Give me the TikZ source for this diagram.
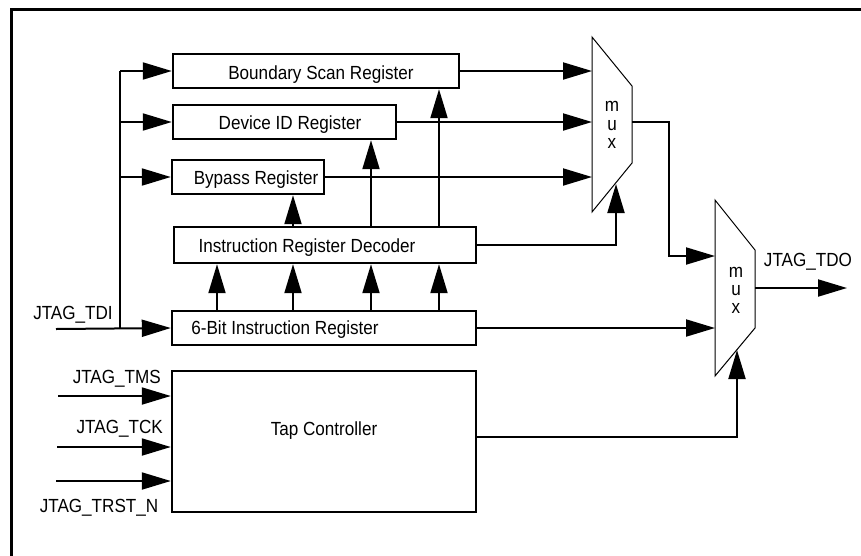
\documentclass[tikz,border=0pt]{standalone}
\usepackage{fontspec}
\setmainfont{Liberation Sans}[FakeStretch=0.9]
\usetikzlibrary{arrows.meta}
\tikzset{
  regbox/.style={draw, line width=2.4pt, inner sep=0pt, rectangle},
  conn/.style={line width=2pt},
  arr/.style={line width=2pt, -{Triangle[length=29pt,width=17pt]}},
  muxshape/.style={line width=1pt, line join=miter},
  lbl/.style={inner sep=0pt, anchor=base, font=\fontsize{19}{22}\selectfont},
}
\begin{document}
\begin{tikzpicture}[x=1pt,y=-1pt]
\useasboundingbox (0,0) rectangle (861,555);
\fill[white] (0,0) rectangle (861,555);
% frame
\draw[line width=3pt] (861,9) -- (11,9) -- (11,556);

% boxes
\node[regbox, minimum width=286pt, minimum height=34pt] (bsr) at (316,71) {};
\node[regbox, minimum width=223pt, minimum height=34pt] (dev) at (284.5,122) {};
\node[regbox, minimum width=152pt, minimum height=34pt] (byp) at (248,177) {};
\node[regbox, minimum width=302pt, minimum height=36pt] (ird) at (325,245) {};
\node[regbox, minimum width=304pt, minimum height=34pt] (ir) at (324,328) {};
\node[regbox, minimum width=304pt, minimum height=141pt] (tap) at (324,441.5) {};

% box texts
\node[lbl] (tbsr) at (321,79) {Boundary Scan Register};
\node[lbl] (tdev) at (290,129) {Device ID Register};
\node[lbl] (tbyp) at (256,184) {Bypass Register};
\node[lbl] (tird) at (307,252) {Instruction Register Decoder};
\node[lbl] (tir) at (285,334) {6-Bit Instruction Register};
\node[lbl] (ttap) at (324,435) {Tap Controller};

% muxes
\coordinate (m1a) at (592,37);
\coordinate (m1b) at (632,86);
\coordinate (m1c) at (632,163);
\coordinate (m1d) at (592,212);
\draw[muxshape] (m1a) -- (m1b) -- (m1c) -- (m1d) -- cycle;
\coordinate (m2a) at (715,200);
\coordinate (m2b) at (755,250);
\coordinate (m2c) at (755,328);
\coordinate (m2d) at (715,376);
\draw[muxshape] (m2a) -- (m2b) -- (m2c) -- (m2d) -- cycle;
\node[lbl] (m1m) at (612,111) {m};
\node[lbl] (m1u) at (612,130) {u};
\node[lbl] (m1x) at (612,148) {x};
\node[lbl] (m2m) at (736,277) {m};
\node[lbl] (m2u) at (736,295) {u};
\node[lbl] (m2x) at (736,313) {x};

% coordinates
\coordinate (m1l) at (592,122);
\coordinate (m1s) at (616,184);
\coordinate (m1o) at (632,122);
\coordinate (m2i) at (715,256);
\coordinate (m2l) at (715,329);
\coordinate (m2s) at (737,350);
\coordinate (m2o) at (755,288);
\coordinate (tdo) at (847,288);
\coordinate (tdi) at (56,329);
\coordinate (bus) at (120,329);
\coordinate (bustop) at (120,71);
\coordinate (tms) at (58,396);
\coordinate (tck) at (57,447);
\coordinate (trst) at (56,481);
\coordinate (xa) at (217,0);
\coordinate (xb) at (293,0);
\coordinate (xc) at (371,0);
\coordinate (xd) at (439,0);

% TDI bus
\draw[arr] (tdi) -- (ir.west);
\draw[conn] (bus) -- (bustop);
\draw[arr] (bustop) -- (bsr.west);
\draw[arr] (bus |- dev.west) -- (dev.west);
\draw[arr] (bus |- byp.west) -- (byp.west);

% registers to mux1
\draw[arr] (bsr.east) -- (bsr.east -| m1l);
\draw[arr] (dev.east) -- (dev.east -| m1l);
\draw[arr] (byp.east) -- (byp.east -| m1l);
\draw[arr] (ird.east) -| (m1s);

% decoder to registers
\draw[arr] (ird.north -| xb) -- (byp.south -| xb);
\draw[arr] (ird.north -| xc) -- (dev.south -| xc);
\draw[arr] (ird.north -| xd) -- (bsr.south -| xd);

% IR to decoder
\draw[arr] (ir.north -| xa) -- (ird.south -| xa);
\draw[arr] (ir.north -| xb) -- (ird.south -| xb);
\draw[arr] (ir.north -| xc) -- (ird.south -| xc);
\draw[arr] (ir.north -| xd) -- (ird.south -| xd);

% mux1 to mux2
\draw[arr] (m1o) -- ++(37,0) |- (m2i);
\draw[arr] (ir.east) -- (ir.east -| m2l);
\draw[arr] ([yshift=4.5pt]tap.east) -| (m2s);
\draw[arr] (m2o) -- (tdo);
\node[lbl] (ltdo) at (808,266) {JTAG\_TDO};

% tap inputs
\draw[arr] (tms) -- (tms -| tap.west);
\draw[arr] (tck) -- (tck -| tap.west);
\draw[arr] (trst) -- (trst -| tap.west);
\node[lbl] (ltdi) at (73,319) {JTAG\_TDI};
\node[lbl, anchor=base east] (ltms) at (161,383) {JTAG\_TMS};
\node[lbl, anchor=base east] (ltck) at (163,433) {JTAG\_TCK};
\node[lbl] (ltrst) at (99,512) {JTAG\_TRST\_N};
\end{tikzpicture}
\end{document}
